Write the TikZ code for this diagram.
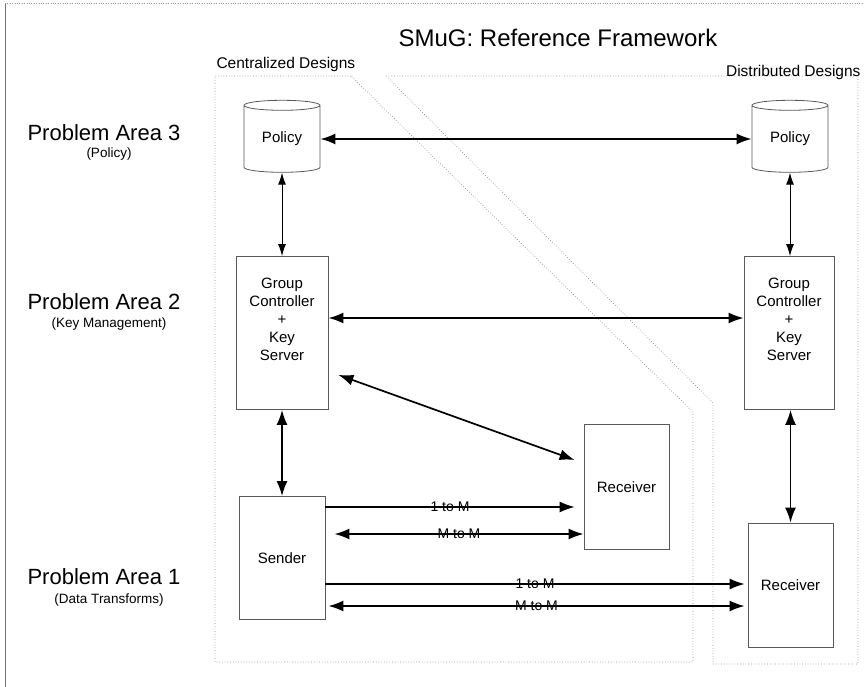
\documentclass[tikz,border=0pt]{standalone}
\usepackage{fontspec}
\setmainfont{Liberation Sans}
\usetikzlibrary{arrows.meta,shapes.geometric}
\tikzset{box/.style={draw=black!65,line width=0.8pt,font=\fontsize{15}{18}\selectfont,align=center,inner sep=0pt}}
\tikzset{db/.style={box,cylinder,shape border rotate=90,aspect=0.25,minimum width=76pt,minimum height=72pt}}
\tikzset{area/.style={draw=black!45,dotted,line width=0.7pt}}
\tikzset{ln/.style={font=\fontsize{14}{14}\selectfont,inner sep=0pt}}
\tikzset{big/.style={line width=1.7pt,{Latex[length=15pt,width=11pt]}-{Latex[length=15pt,width=11pt]}}}
\tikzset{one/.style={line width=1.4pt,-{Latex[length=15pt,width=11pt]}}}
\tikzset{thin/.style={line width=1pt,{Latex[length=12pt,width=8pt]}-{Latex[length=12pt,width=8pt]}}}

\begin{document}
\begin{tikzpicture}[x=1pt,y=-1pt]
  \useasboundingbox (0,0) rectangle (867,687);
  % frame
  \draw[black!55,line width=0.8pt] (5,3) -- (5,687);
  \draw[black!40,dotted] (5,3) -- (864,3);
  % design regions
  \draw[area] (351,76) -- (215,76) -- (215,662) -- (693,662) -- (693,412) -- cycle;
  \draw[area] (386,76) -- (858,76) -- (858,664) -- (713,664) -- (713,403) -- cycle;
  \node[font=\fontsize{24}{24}\selectfont] (title) at (558,38) {SMuG: Reference Framework};
  \node[font=\fontsize{15.5}{15.5}\selectfont,anchor=west] (cd) at (213,64) {Centralized Designs};
  \node[font=\fontsize{15.5}{15.5}\selectfont,anchor=east] (dd) at (864,72) {Distributed Designs};
  % problem areas
  \node[font=\fontsize{22}{22}\selectfont] (pa3) at (104,133) {Problem Area 3};
  \node[font=\fontsize{13.5}{13.5}\selectfont] (pa3s) at (109,154) {(Policy)};
  \node[font=\fontsize{22}{22}\selectfont] (pa2) at (104,302) {Problem Area 2};
  \node[font=\fontsize{13.5}{13.5}\selectfont] (pa2s) at (109,324) {(Key Management)};
  \node[font=\fontsize{22}{22}\selectfont] (pa1) at (104,577) {Problem Area 1};
  \node[font=\fontsize{13.5}{13.5}\selectfont] (pa1s) at (109,600) {(Data Transforms)};
  % nodes
  \node[db] (polc) at (282,139) {Policy};
  \node[db] (pold) at (790,139) {Policy};
  \node[box,minimum width=92pt,minimum height=153pt] (gcc) at (282,333) {Group\\Controller\\+\\Key\\Server\\[10pt]};
  \node[box,minimum width=90pt,minimum height=153pt] (gcd) at (789,333) {Group\\Controller\\+\\Key\\Server\\[10pt]};
  \node[box,minimum width=86pt,minimum height=123pt] (snd) at (282,558) {Sender};
  \node[box,minimum width=85pt,minimum height=125pt] (rcvc) at (626.5,487) {Receiver};
  \node[box,minimum width=85pt,minimum height=124pt] (rcvd) at (790.5,585) {Receiver};
  % connectors
  \draw[big] (polc) -- (pold);
  \draw[thin] (polc.south) -- (gcc.north);
  \draw[thin] (pold.south) -- (pold.south |- gcd.north);
  \draw[big] ([yshift=15pt]gcc.east) -- ([yshift=15pt]gcd.west);
  \draw[big] (gcc.south) -- (snd.north);
  \draw[big] (rcvd.north |- gcd.south) -- (rcvd.north);
  \draw[big] ([shift={(10pt,35pt)}]gcc.south east) -- ([shift={(-9pt,27pt)}]rcvc.west);
  \draw[one] ([yshift=51pt]snd.east) -- node[ln] {1 to M} ([xshift=-9pt]rcvc.west |- 0,507);
  \draw[big] ([xshift=9pt]snd.east |- 0,534) -- node[ln] {M to M} (rcvc.west |- 0,534);
  \draw[one] (snd.east |- 0,584) -- node[ln] {1 to M} ([xshift=-3pt]rcvd.west |- 0,584);
  \draw[big] ([xshift=3pt]snd.east |- 0,606) -- node[ln] {M to M} ([xshift=-3pt]rcvd.west |- 0,606);
\end{tikzpicture}
\end{document}
